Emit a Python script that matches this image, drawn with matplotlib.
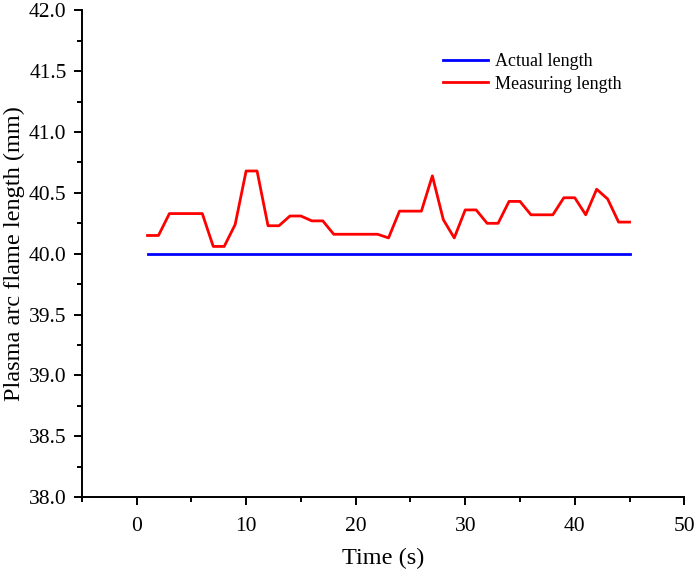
import numpy as np
import matplotlib.pyplot as plt

plt.rcParams['font.family'] = ['Liberation Serif', 'DejaVu Serif']

# tempo (s) e comprimentos medidos
tempo = list(range(1, 46))
comp_real = [40.0] * 45
comp_medido = [40.15, 40.15, 40.33, 40.33, 40.33, 40.33, 40.06, 40.06, 40.24, 40.68,
               40.68, 40.23, 40.23, 40.31, 40.31, 40.27, 40.27, 40.16, 40.16, 40.16,
               40.16, 40.16, 40.13, 40.35, 40.35, 40.35, 40.64, 40.28, 40.13, 40.36,
               40.36, 40.25, 40.25, 40.43, 40.43, 40.32, 40.32, 40.32, 40.46, 40.46,
               40.32, 40.53, 40.45, 40.26, 40.26]

fig = plt.figure(figsize=(6.99, 5.76), dpi=100)
ax = fig.add_axes([0.117, 0.137, 0.862, 0.845])

ax.plot(tempo, comp_real, color='#0000ff', lw=2.0, label='Actual length')
ax.plot(tempo, comp_medido, color='#ff0000', lw=2.0, label='Measuring length')

ax.set_xlim(-5, 50)
ax.set_ylim(38, 42)
ax.set_xticks(np.arange(0, 51, 10))
ax.set_xticks(np.arange(-5, 51, 5), minor=True)
ax.set_yticks(np.arange(38, 42.01, 0.5))
ax.set_yticks(np.arange(38, 42.01, 0.25), minor=True)
ax.yaxis.set_major_formatter(plt.FormatStrFormatter('%.1f'))

for s in ['top', 'right']:
    ax.spines[s].set_visible(False)
for s in ['left', 'bottom']:
    ax.spines[s].set_linewidth(1.4)

ax.tick_params(axis='both', which='major', length=6, width=1.4, labelsize=15.5, direction='out')
ax.tick_params(axis='x', which='major', pad=8)
ax.tick_params(axis='y', which='major', pad=5)
ax.tick_params(axis='both', which='minor', length=3.5, width=1.4, direction='out')

ax.set_xlabel('Time (s)', fontsize=17.5, labelpad=9)
ax.set_ylabel('Plasma arc flame length (mm)', fontsize=17.5, labelpad=3)

ax.legend(loc='upper left', bbox_to_anchor=(0.572, 0.945), frameon=False,
          fontsize=13, handlelength=2.5, labelspacing=0.3, handletextpad=0.4)

fig.savefig('out.png', dpi=100)
